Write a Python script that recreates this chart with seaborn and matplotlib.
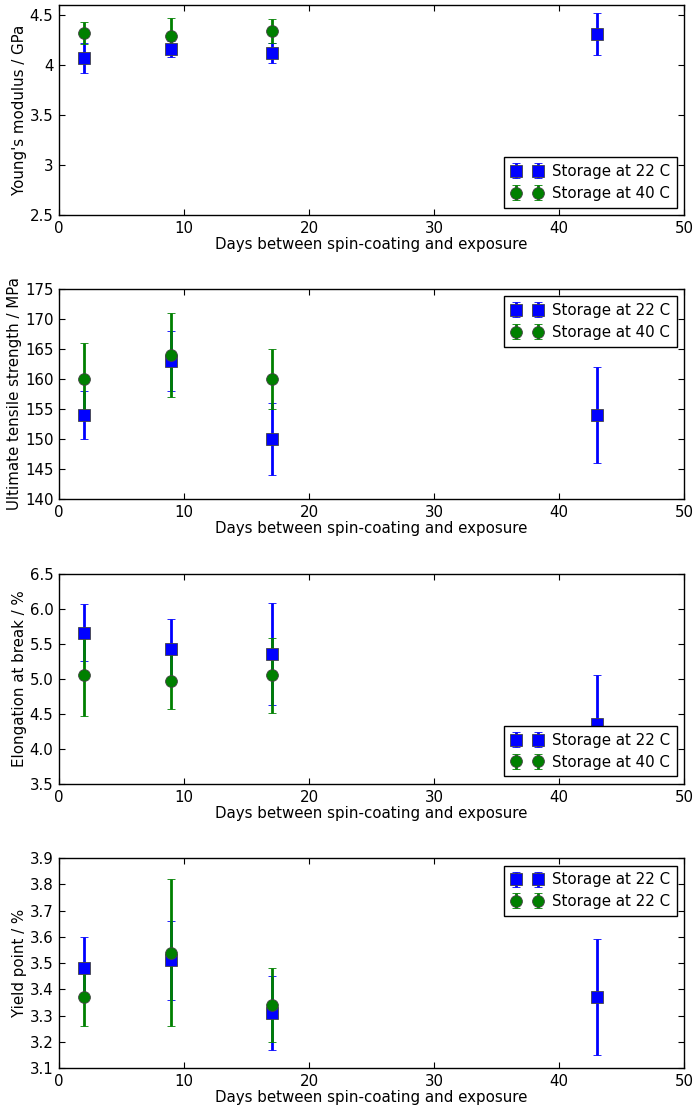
import matplotlib
matplotlib.use("Agg")
import matplotlib.pyplot as plt
import numpy as np
import seaborn as sns

# ---------------------------------------------------------------------------
# Data
# ---------------------------------------------------------------------------
days_22 = [2, 9, 17, 43]
days_40 = [2, 9, 17]

modulus_22 = [4.07, 4.16, 4.12, 4.31]
modulus_22_err = [0.15, 0.08, 0.10, 0.21]
modulus_40 = [4.32, 4.29, 4.34]
modulus_40_err = [0.11, 0.18, 0.12]

uts_22 = [154, 163, 150, 154]
uts_22_err = [4, 5, 6, 8]
uts_40 = [160, 164, 160]
uts_40_err = [6, 7, 5]

elong_22 = [5.66, 5.43, 5.36, 4.36]
elong_22_err = [0.41, 0.42, 0.73, 0.70]
elong_40 = [5.05, 4.97, 5.05]
elong_40_err = [0.58, 0.40, 0.54]

yield_22 = [3.48, 3.51, 3.31, 3.37]
yield_22_err = [0.12, 0.15, 0.14, 0.22]
yield_40 = [3.37, 3.54, 3.34]
yield_40_err = [0.11, 0.28, 0.14]

XLABEL = "Days between spin-coating and exposure"
FS = 10.8

sns.set_style("ticks")
plt.rcParams.update({
    "font.family": ["DejaVu Sans"],
    "font.size": FS,
    "text.color": "black",
    "axes.labelcolor": "black",
    "xtick.color": "black",
    "ytick.color": "black",
    "axes.linewidth": 1.0,
    "xtick.direction": "in",
    "ytick.direction": "in",
    "xtick.top": True,
    "ytick.right": True,
    "xtick.major.size": 4,
    "ytick.major.size": 4,
    "xtick.major.pad": 4,
    "ytick.major.pad": 4,
    "xtick.labelsize": FS,
    "ytick.labelsize": FS,
    "axes.labelsize": FS,
    "axes.edgecolor": "black",
    "legend.fontsize": FS,
})

panels = [
    dict(y22=modulus_22, e22=modulus_22_err, y40=modulus_40, e40=modulus_40_err,
         ylabel="Young's modulus / GPa", ylim=(2.5, 4.6),
         yticks=[2.5, 3, 3.5, 4, 4.5], ylabels=["2.5", "3", "3.5", "4", "4.5"],
         lab40="Storage at 40 C", loc="lower right"),
    dict(y22=uts_22, e22=uts_22_err, y40=uts_40, e40=uts_40_err,
         ylabel="Ultimate tensile strength / MPa", ylim=(140, 175),
         yticks=list(range(140, 176, 5)), ylabels=[str(v) for v in range(140, 176, 5)],
         lab40="Storage at 40 C", loc="upper right"),
    dict(y22=elong_22, e22=elong_22_err, y40=elong_40, e40=elong_40_err,
         ylabel="Elongation at break / %", ylim=(3.5, 6.5),
         yticks=list(np.arange(3.5, 6.51, 0.5)),
         ylabels=[f"{v:.1f}" for v in np.arange(3.5, 6.51, 0.5)],
         lab40="Storage at 40 C", loc="lower right"),
    dict(y22=yield_22, e22=yield_22_err, y40=yield_40, e40=yield_40_err,
         ylabel="Yield point / %", ylim=(3.1, 3.9),
         yticks=list(np.arange(3.1, 3.91, 0.1)),
         ylabels=[f"{v:.1f}" for v in np.arange(3.1, 3.91, 0.1)],
         lab40="Storage at 22 C", loc="upper right"),
]

fig = plt.figure(figsize=(6.98, 11.1), dpi=100)
left, width, height = 0.0845, 0.8955, 0.1892
bottoms = [0.8063, 0.5505, 0.2937, 0.0378]

for p, b in zip(panels, bottoms):
    ax = fig.add_axes([left, b, width, height])
    ax.grid(False)
    ax.errorbar(days_22, p["y22"], yerr=p["e22"], fmt="s", color="blue",
                ecolor="blue", elinewidth=2, capsize=3, capthick=1,
                markersize=8.5, markeredgecolor="#444444", markeredgewidth=0.6,
                label="Storage at 22 C")
    ax.errorbar(days_40, p["y40"], yerr=p["e40"], fmt="o", color="green",
                ecolor="green", elinewidth=2, capsize=3, capthick=1,
                markersize=8.5, markeredgecolor="#444444", markeredgewidth=0.6,
                label=p["lab40"])
    ax.set_xlim(0, 50)
    ax.set_xticks([0, 10, 20, 30, 40, 50])
    ax.set_ylim(*p["ylim"])
    ax.set_yticks(p["yticks"])
    ax.set_yticklabels(p["ylabels"])
    ax.set_xlabel(XLABEL, labelpad=1)
    ax.set_ylabel(p["ylabel"], labelpad=2)
    leg = ax.legend(loc=p["loc"], numpoints=2, fancybox=False, frameon=True,
                    framealpha=1, borderaxespad=0.5, handletextpad=0.6,
                    borderpad=0.45, labelspacing=0.45, handlelength=2.1)
    leg.get_frame().set_edgecolor("black")
    leg.get_frame().set_linewidth(1.0)
    for s in ax.spines.values():
        s.set_visible(True)
        s.set_color("black")

fig.savefig("out.png", dpi=100)
